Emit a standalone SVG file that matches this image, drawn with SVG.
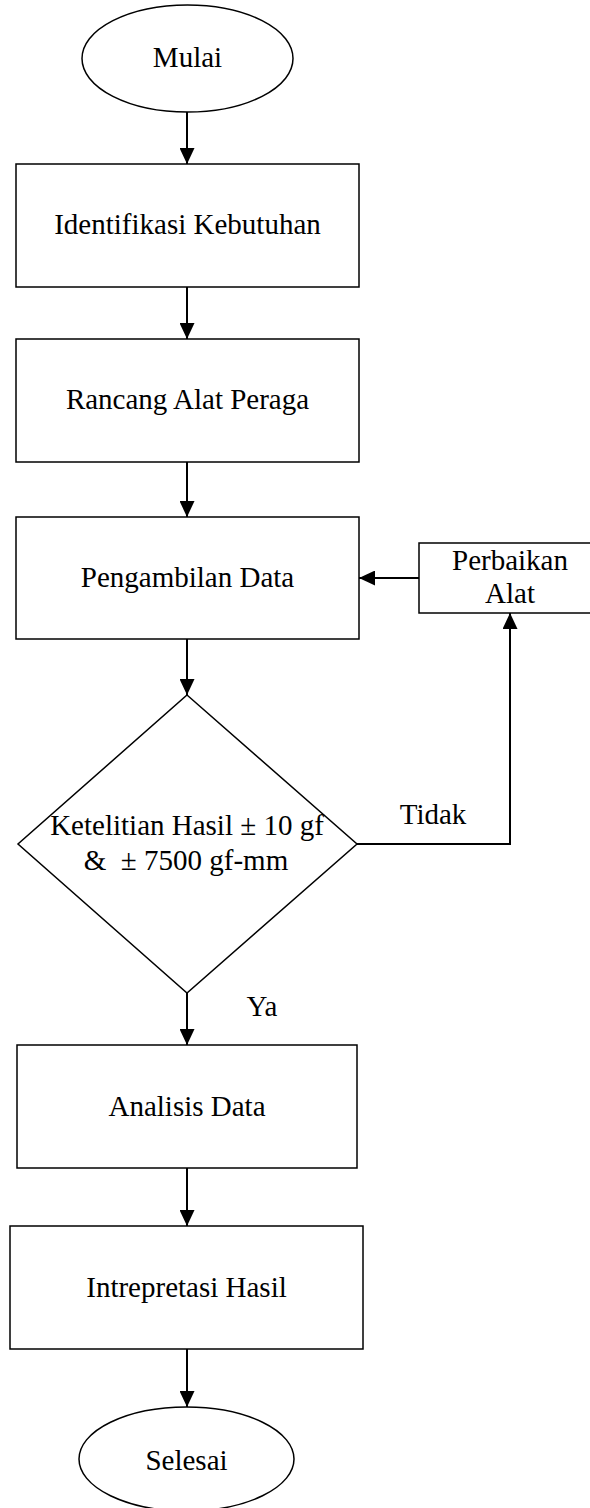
<svg xmlns="http://www.w3.org/2000/svg" width="590" height="1508" viewBox="0 0 590 1508">
<style>
.shape{fill:#fff;stroke:#000;stroke-width:1.5}
.t{font-family:"Liberation Serif","Times New Roman",serif;font-size:29px;fill:#000;text-anchor:middle}
.c{fill:none;stroke:#000;stroke-width:2}
</style>
<defs>
<marker id="ah" markerUnits="userSpaceOnUse" markerWidth="16" markerHeight="15" refX="16" refY="7.5" orient="auto">
<path d="M0,0 L16,7.5 L0,15 z" fill="#000"/>
</marker>
</defs>
<rect width="590" height="1508" fill="#fff"/>
<g id="mulai">
<ellipse class="shape" cx="187.5" cy="58.5" rx="105.5" ry="53.5"/>
<text class="t" x="187.5" y="67">Mulai</text>
</g>
<g id="identifikasi">
<rect class="shape" x="16" y="164" width="343" height="123"/>
<text class="t" x="187.5" y="234">Identifikasi Kebutuhan</text>
</g>
<g id="rancang">
<rect class="shape" x="16" y="339" width="343" height="123"/>
<text class="t" x="187.5" y="409">Rancang Alat Peraga</text>
</g>
<g id="pengambilan">
<rect class="shape" x="16" y="517" width="343" height="122"/>
<text class="t" x="187.5" y="587">Pengambilan Data</text>
</g>
<g id="perbaikan">
<rect class="shape" x="419" y="543" width="182" height="70"/>
<text class="t" x="510" y="570">Perbaikan</text>
<text class="t" x="510" y="603">Alat</text>
</g>
<g id="ketelitian">
<polygon class="shape" points="187,695 357,844 187,993 18,844"/>
<text class="t" x="187" y="835">Ketelitian Hasil ± 10 gf</text>
<text class="t" x="186" y="870" xml:space="preserve">&amp;  ± 7500 gf-mm</text>
</g>
<g id="analisis">
<rect class="shape" x="17" y="1045" width="340" height="123"/>
<text class="t" x="187" y="1116">Analisis Data</text>
</g>
<g id="intrepretasi">
<rect class="shape" x="10" y="1226" width="353" height="123"/>
<text class="t" x="186.5" y="1297">Intrepretasi Hasil</text>
</g>
<g id="selesai">
<ellipse class="shape" cx="186.5" cy="1459" rx="107.5" ry="52"/>
<text class="t" x="186.5" y="1470">Selesai</text>
</g>
<g id="connectors">
<line class="c" x1="187" y1="112" x2="187" y2="164" marker-end="url(#ah)"/>
<line class="c" x1="187" y1="287" x2="187" y2="339" marker-end="url(#ah)"/>
<line class="c" x1="187" y1="462" x2="187" y2="517" marker-end="url(#ah)"/>
<line class="c" x1="187" y1="639" x2="187" y2="695" marker-end="url(#ah)"/>
<line class="c" x1="187" y1="993" x2="187" y2="1045" marker-end="url(#ah)"/>
<line class="c" x1="187" y1="1168" x2="187" y2="1226" marker-end="url(#ah)"/>
<line class="c" x1="187" y1="1349" x2="187" y2="1407" marker-end="url(#ah)"/>
<polyline class="c" points="357,844 510,844 510,613" marker-end="url(#ah)"/>
<line class="c" x1="419" y1="578" x2="359" y2="578" marker-end="url(#ah)"/>
<text class="t" x="433" y="824">Tidak</text>
<text class="t" x="262" y="1016">Ya</text>
</g>
</svg>
